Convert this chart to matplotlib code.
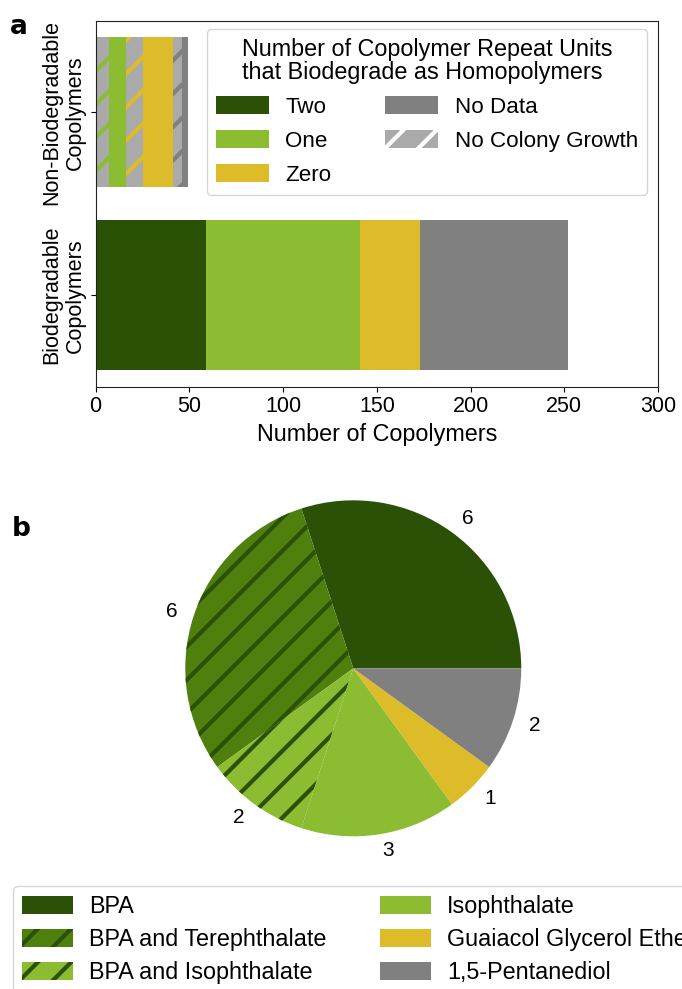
# Copolymer biodegradation summary: stacked bars (a) and pie (b)

import matplotlib
matplotlib.use('Agg')
import matplotlib.pyplot as plt
from matplotlib.patches import Patch

plt.rcParams['font.family'] = ['Liberation Sans', 'DejaVu Sans']
plt.rcParams['hatch.linewidth'] = 3.0

# Colours
DARK_GREEN = '#2b5107'
MID_GREEN = '#4f7f0c'
LIGHT_GREEN = '#8bbc32'
YELLOW = '#debb29'
GREY = '#808080'
LIGHT_GREY = '#aaaaaa'

# Panel a data
bar_categories = ['Biodegradable\nCopolymers', 'Non-Biodegradable\nCopolymers']
unit_names = ['Two', 'One', 'Zero', 'No Data']
unit_colours = [DARK_GREEN, LIGHT_GREEN, YELLOW, GREY]
bio_counts = [59, 82, 32, 79]  # Two, One, Zero, No Data
# Non-biodegradable bar, left to right (hatched = no colony growth)
nonbio_units = ['One', 'One', 'Zero', 'Zero', 'No Data', 'No Data']
nonbio_no_growth = [True, False, True, False, True, False]
nonbio_counts = [7, 9, 9, 16, 5, 3]

# Panel b data
pie_labels = ['BPA', 'BPA and Terephthalate', 'BPA and Isophthalate',
              'Isophthalate', 'Guaiacol Glycerol Ether', '1,5-Pentanediol']
pie_counts = [6, 6, 2, 3, 1, 2]
pie_faces = [DARK_GREEN, MID_GREEN, LIGHT_GREEN, LIGHT_GREEN, YELLOW, GREY]
pie_hatches = [None, '/', '/', None, None, None]

fig = plt.figure(figsize=(6.82, 9.89), dpi=100)

# ---- panel a ----
ax = fig.add_axes([0.1403, 0.609, 0.8245, 0.370])
colour_of = dict(zip(unit_names, unit_colours))

left = 0
for n, c in zip(bio_counts, unit_colours):
    ax.barh(0, n, left=left, height=0.82, color=c, lw=0)
    left += n

left = 0
for unit, ng, n in zip(nonbio_units, nonbio_no_growth, nonbio_counts):
    if ng:
        ax.barh(1, n, left=left, height=0.82, facecolor=LIGHT_GREY,
                edgecolor=colour_of[unit], hatch='/', lw=0)
    else:
        ax.barh(1, n, left=left, height=0.82, color=colour_of[unit], lw=0)
    left += n

ax.set_xlim(0, 300)
ax.set_ylim(-0.5, 1.5)
ax.set_yticks([0, 1])
ax.set_yticklabels(bar_categories, rotation=90, va='center',
                   multialignment='center', fontsize=15.5)
ax.tick_params(axis='x', labelsize=15.5)
ax.set_xlabel('Number of Copolymers', fontsize=16.8)
for s in ax.spines.values():
    s.set_color('#222222')

handles = [Patch(facecolor=c, lw=0) for c in unit_colours]
handles.append(Patch(facecolor=LIGHT_GREY, edgecolor='white', hatch='/', lw=0))
labels = unit_names + ['No Colony Growth']
leg = ax.legend(handles, labels, ncol=2, loc='upper right',
                bbox_to_anchor=(0.9805, 0.977), borderaxespad=0,
                fontsize=16.1, title='Number of Copolymer Repeat Units\n'
                'that Biodegrade as Homopolymers', title_fontsize=16.8,
                handlelength=2.36, handleheight=0.85, handletextpad=0.75,
                columnspacing=2.4, labelspacing=0.55)
leg.get_title().set_linespacing(1.0)
leg._legend_box.align = 'center'

fig.text(10 / 682, 1 - 14 / 989, 'a', fontsize=19, fontweight='bold',
         va='top', ha='left', family='DejaVu Sans')

# ---- panel b ----
pax = fig.add_axes([0.2101, 0.1119, 0.6158, 0.4247])
wedges, texts = pax.pie(pie_counts, labels=[str(v) for v in pie_counts],
                        startangle=0, labeldistance=1.1,
                        textprops={'fontsize': 15})
for w, fc, h in zip(wedges, pie_faces, pie_hatches):
    w.set_facecolor(fc)
    w.set_linewidth(0)
    if h:
        w.set_hatch(h)
        w.set_edgecolor(DARK_GREEN)

fig.text(12 / 682, 1 - 516 / 989, 'b', fontsize=19, fontweight='bold',
         va='top', ha='left', family='DejaVu Sans')

pie_handles = []
for fc, h in zip(pie_faces, pie_hatches):
    if h:
        pie_handles.append(Patch(facecolor=fc, edgecolor=DARK_GREEN,
                                 hatch=h, lw=0))
    else:
        pie_handles.append(Patch(facecolor=fc, lw=0))
fig.legend(pie_handles, pie_labels, ncol=2, loc='upper left',
           bbox_to_anchor=(13 / 682, 1 - 886 / 989), borderaxespad=0,
           fontsize=16.8, handlelength=2.15, handleheight=0.82,
           handletextpad=0.72, columnspacing=2.3, labelspacing=0.42)

plt.savefig('out.png', dpi=100)
